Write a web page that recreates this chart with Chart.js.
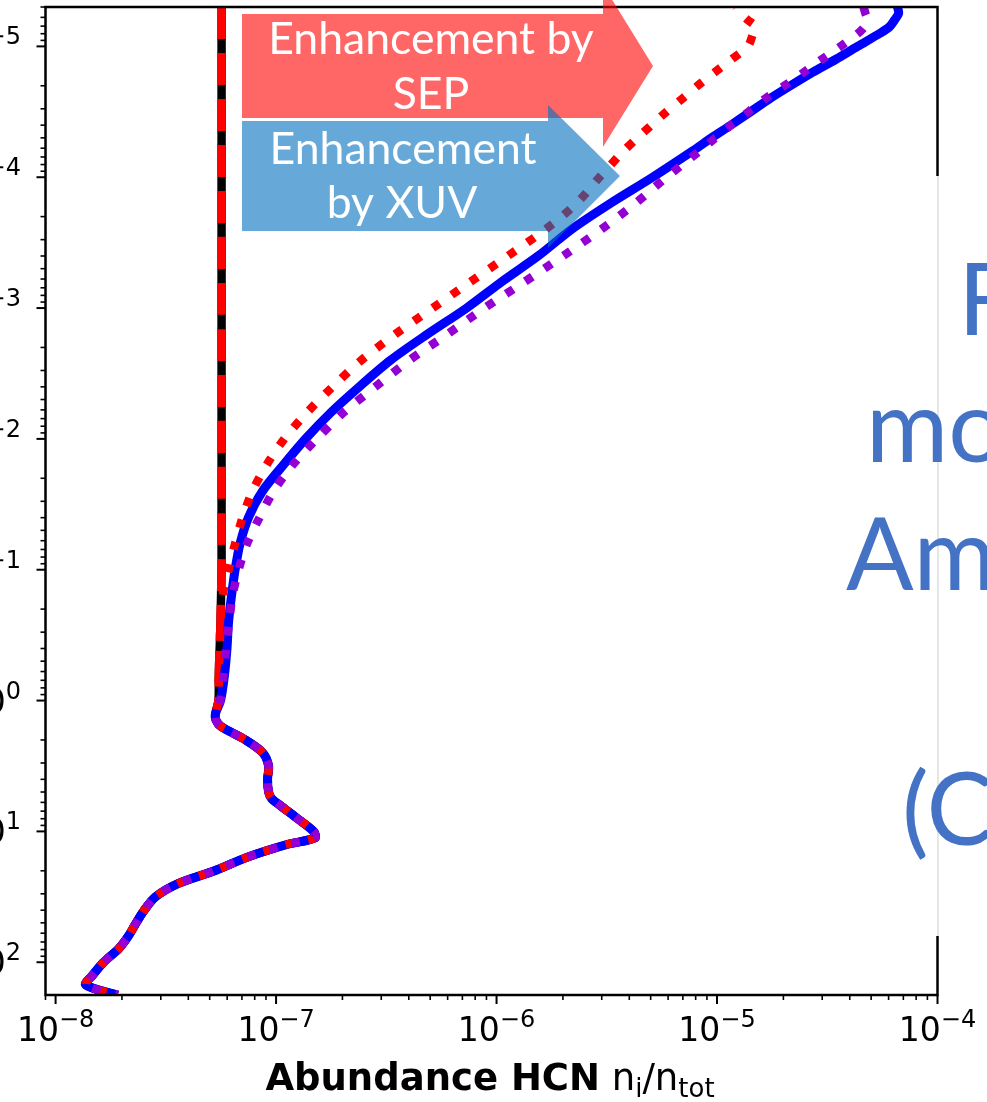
<!DOCTYPE html>
<html>
<head>
<meta charset="utf-8">
<script src="https://cdn.jsdelivr.net/npm/chart.js@4.4.0/dist/chart.umd.min.js"></script>
<style>
  html, body { margin: 0; padding: 0; background: #fff; }
  canvas { display: block; }
</style>
</head>
<body>
<canvas id="chart" width="987" height="1102"></canvas>
<script>
// pressure levels (bar), top of the atmosphere first
const pressure = [
  5.0e-6, 5.6e-6, 6.3e-6, 7.1e-6, 7.9e-6,
  1.0e-5, 1.26e-5, 1.58e-5, 2.0e-5, 2.5e-5, 3.16e-5, 3.98e-5, 5.0e-5, 6.3e-5,
  1.0e-4, 1.58e-4, 2.5e-4, 3.98e-4, 6.3e-4,
  1.0e-3, 1.58e-3, 2.5e-3, 3.98e-3, 6.3e-3,
  0.01, 0.0158, 0.025, 0.0398, 0.063,
  0.1, 0.158, 0.25, 0.398, 0.63, 1.0,
  1.26, 1.41, 1.58, 2.0, 2.5, 3.16, 3.98, 5.0, 5.6, 6.3, 7.9,
  10, 11.2, 12.6, 15.8, 20, 25, 31.6, 39.8, 50, 63, 79,
  100, 126, 149, 178
];

// HCN abundance, upper atmosphere (down to 1 bar)
const quietUpper = [
  5.66e-8, 5.66e-8, 5.66e-8, 5.66e-8, 5.66e-8, 5.66e-8, 5.66e-8, 5.66e-8, 5.66e-8, 5.66e-8,
  5.66e-8, 5.66e-8, 5.66e-8, 5.66e-8, 5.66e-8, 5.66e-8, 5.66e-8, 5.66e-8, 5.66e-8, 5.66e-8,
  5.66e-8, 5.66e-8, 5.66e-8, 5.66e-8, 5.66e-8, 5.66e-8, 5.66e-8, 5.66e-8, 5.66e-8, 5.66e-8,
  5.63e-8, 5.6e-8, 5.55e-8, 5.5e-8, 5.48e-8
];
const xuvUpper = [
  6.59e-5, 6.66e-5, 6.38e-5, 6.05e-5, 5.51e-5, 4.34e-5, 3.45e-5, 2.71e-5, 2.15e-5, 1.74e-5,
  1.42e-5, 1.16e-5, 9.44e-6, 7.74e-6, 5.10e-6, 3.29e-6, 2.19e-6, 1.55e-6, 1.054e-6, 7.31e-7,
  4.87e-7, 3.31e-7, 2.39e-7, 1.77e-7, 1.36e-7, 1.08e-7, 8.69e-8, 7.50e-8, 6.87e-8, 6.52e-8,
  6.28e-8, 6.09e-8, 5.99e-8, 5.84e-8, 5.6e-8
];
const xuvSepUpper = [
  4.62e-5, 4.71e-5, 4.81e-5, 4.66e-5, 4.38e-5, 3.63e-5, 2.98e-5, 2.47e-5, 2.02e-5, 1.66e-5,
  1.39e-5, 1.16e-5, 9.85e-6, 8.33e-6, 5.90e-6, 4.27e-6, 2.99e-6, 2.01e-6, 1.34e-6, 8.82e-7,
  6.00e-7, 4.03e-7, 2.83e-7, 2.02e-7, 1.53e-7, 1.19e-7, 9.75e-8, 8.42e-8, 7.39e-8, 6.76e-8,
  6.35e-8, 6.12e-8, 5.93e-8, 5.78e-8, 5.58e-8
];
const sepUpper = [
  1.22e-5, 1.28e-5, 1.38e-5, 1.50e-5, 1.46e-5, 1.38e-5, 1.16e-5, 9.75e-6, 8.16e-6, 6.98e-6,
  5.90e-6, 5.05e-6, 4.36e-6, 3.77e-6, 2.93e-6, 2.31e-6, 1.67e-6, 1.13e-6, 7.62e-7, 5.13e-7,
  3.48e-7, 2.44e-7, 1.81e-7, 1.38e-7, 1.09e-7, 9.06e-8, 7.82e-8, 7.05e-8, 6.52e-8, 6.09e-8,
  5.72e-8, 5.6e-8, 5.55e-8, 5.5e-8, 5.48e-8
];
// deep atmosphere, identical for every run
const deepAbund = [
  5.31e-8, 5.34e-8, 5.63e-8, 7.27e-8, 8.69e-8, 9.25e-8, 9.15e-8, 9.25e-8, 9.54e-8, 1.04e-7, 1.24e-7,
  1.48e-7, 1.50e-7, 1.12e-7, 7.36e-8, 5.26e-8, 3.61e-8, 2.84e-8, 2.53e-8, 2.32e-8, 2.14e-8, 1.93e-8,
  1.65e-8, 1.47e-8, 1.37e-8, 1.91e-8
];

const xTickExp = [-8, -7, -6, -5, -4];
const yTickExp = [-5, -4, -3, -2, -1, 0, 1, 2];

const profile = (upper) => upper.concat(deepAbund).map((v, i) => ({ x: v, y: pressure[i] }));

function logMinor(min, max) {
  const out = [];
  for (let e = Math.floor(Math.log10(min)); e <= Math.ceil(Math.log10(max)); e++) {
    for (let m = 2; m < 10; m++) {
      const v = m * Math.pow(10, e);
      if (v >= min * 0.999 && v <= max * 1.001) out.push(v);
    }
  }
  return out;
}

function powLabel(ctx, exp, x, base, align) {
  const sup = exp < 0 ? '\u2212' + (-exp) : String(exp);
  ctx.font = '33px "DejaVu Sans"';
  const w1 = ctx.measureText('10').width;
  ctx.font = '24px "DejaVu Sans"';
  const w2 = ctx.measureText(sup).width;
  const left = align === 'center' ? x - (w1 + w2) / 2 : x - (w1 + w2);
  ctx.textAlign = 'left';
  ctx.textBaseline = 'alphabetic';
  ctx.font = '33px "DejaVu Sans"';
  ctx.fillText('10', left, base);
  ctx.font = '24px "DejaVu Sans"';
  ctx.fillText(sup, left + w1, base - 14);
}

function arrow(ctx, x0, top, bot, neck, headTop, headBot, tipX, tipY, color) {
  ctx.fillStyle = color;
  ctx.beginPath();
  ctx.moveTo(x0, top);
  ctx.lineTo(neck, top);
  ctx.lineTo(neck, headTop);
  ctx.lineTo(tipX, tipY);
  ctx.lineTo(neck, headBot);
  ctx.lineTo(neck, bot);
  ctx.lineTo(x0, bot);
  ctx.closePath();
  ctx.fill();
}

const decorations = {
  id: 'decorations',
  afterDraw(chart) {
    const { ctx, chartArea: a, scales: { x, y } } = chart;
    ctx.save();

    // frame
    ctx.strokeStyle = '#000';
    ctx.lineWidth = 2.5;
    ctx.strokeRect(a.left, a.top, a.right - a.left, a.bottom - a.top);

    // ticks
    ctx.lineWidth = 2;
    xTickExp.forEach(e => {
      const px = x.getPixelForValue(Math.pow(10, e));
      ctx.beginPath(); ctx.moveTo(px, a.bottom); ctx.lineTo(px, a.bottom + 9); ctx.stroke();
    });
    yTickExp.forEach(e => {
      const py = y.getPixelForValue(Math.pow(10, e));
      ctx.beginPath(); ctx.moveTo(a.left, py); ctx.lineTo(a.left - 9, py); ctx.stroke();
    });
    ctx.lineWidth = 1.6;
    logMinor(x.min, x.max).forEach(v => {
      const px = x.getPixelForValue(v);
      ctx.beginPath(); ctx.moveTo(px, a.bottom); ctx.lineTo(px, a.bottom + 5); ctx.stroke();
    });
    logMinor(y.min, y.max).forEach(v => {
      const py = y.getPixelForValue(v);
      ctx.beginPath(); ctx.moveTo(a.left, py); ctx.lineTo(a.left - 5, py); ctx.stroke();
    });

    // tick labels
    ctx.fillStyle = '#000';
    xTickExp.forEach(e => powLabel(ctx, e, x.getPixelForValue(Math.pow(10, e)), 1041, 'center'));
    yTickExp.forEach(e => powLabel(ctx, e, 21, y.getPixelForValue(Math.pow(10, e)) + 12, 'right'));

    // axis title
    const parts = [
      ['bold 37px "DejaVu Sans"', 'Abundance HCN', 0],
      ['37px "DejaVu Sans"', ' n', 0],
      ['26px "DejaVu Sans"', 'i', 7],
      ['37px "DejaVu Sans"', '/n', 0],
      ['26px "DejaVu Sans"', 'tot', 7]
    ];
    let total = 0;
    parts.forEach(p => { ctx.font = p[0]; total += ctx.measureText(p[1]).width; });
    let cx = 490 - total / 2;
    ctx.textAlign = 'left';
    parts.forEach(p => {
      ctx.font = p[0];
      ctx.fillText(p[1], cx, 1090 + p[2]);
      cx += ctx.measureText(p[1]).width;
    });

    // enhancement arrows
    arrow(ctx, 242, 14, 118, 603, -15, 147, 653, 66, 'rgba(255,0,0,0.6)');
    arrow(ctx, 242, 121, 231, 548, 105, 248, 620, 176, 'rgba(0,112,192,0.6)');
    ctx.font = '100px Lato';
    const fs = 100 * 267 / ctx.measureText('Enhancement').width;
    ctx.font = fs + 'px Lato';
    ctx.fillStyle = '#fff';
    ctx.textAlign = 'center';
    ctx.fillText('Enhancement by', 431, 54);
    ctx.fillText('SEP', 431, 109);
    ctx.fillText('Enhancement', 403, 164);
    ctx.fillText('by XUV', 402, 218);

    // text box on the right edge of the slide
    ctx.fillStyle = '#fff';
    ctx.fillRect(936, 176, 60, 760);
    ctx.strokeStyle = '#e6e6e6';
    ctx.lineWidth = 2;
    ctx.beginPath(); ctx.moveTo(938, 176); ctx.lineTo(938, 936); ctx.stroke();
    ctx.fillStyle = '#4472C4';
    ctx.textAlign = 'left';
    ctx.font = '100px Lato';
    ctx.fillText('Flare', 958, 335);
    ctx.fillText('model', 866, 462);
    ctx.fillText('Ambient', 846, 590);
    ctx.fillText('(Case)', 902, 845);

    ctx.restore();
  }
};

const common = { pointRadius: 0, fill: false, tension: 0.3, borderJoinStyle: 'round' };

// first dataset is painted last (on top)
new Chart(document.getElementById('chart'), {
  type: 'line',
  data: {
    datasets: [
      { ...common, label: 'XUV + SEP', data: profile(xuvSepUpper), borderColor: '#9400D3', borderWidth: 8.5, borderDash: [8.5, 14.5], borderCapStyle: 'butt' },
      { ...common, label: 'SEP', data: profile(sepUpper), borderColor: '#FF0000', borderWidth: 8.5, borderDash: [8.5, 14.5], borderDashOffset: 8, borderCapStyle: 'butt' },
      { ...common, label: 'XUV', data: profile(xuvUpper), borderColor: '#0000FF', borderWidth: 9 },
      { ...common, label: 'Quiescent (dashed)', data: profile(quietUpper), borderColor: '#FF0000', borderWidth: 8.5, borderDash: [32, 14], borderCapStyle: 'butt' },
      { ...common, label: 'Quiescent', data: profile(quietUpper), borderColor: '#000000', borderWidth: 8.5 }
    ]
  },
  options: {
    responsive: false,
    animation: false,
    devicePixelRatio: 1,
    layout: { padding: { left: 45.5, right: 987 - 937.5, top: 7, bottom: 1102 - 995 } },
    plugins: { legend: { display: false }, tooltip: { enabled: false } },
    scales: {
      x: { type: 'logarithmic', display: false, min: 9.0e-9, max: 1e-4 },
      y: { type: 'logarithmic', display: false, min: 5.0e-6, max: 178, reverse: true }
    }
  },
  plugins: [decorations]
});
</script>
</body>
</html>
